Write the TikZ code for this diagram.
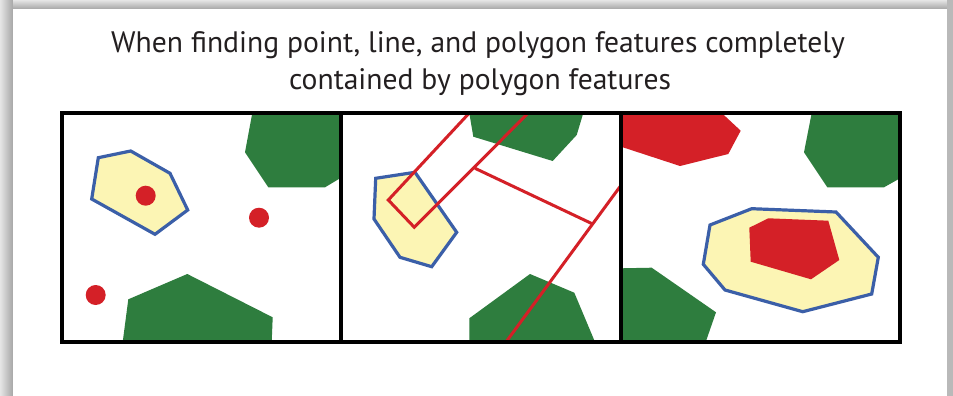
\documentclass[tikz,border=0pt]{standalone}
\usepackage{fontspec}
\setmainfont{PT Sans}
\begin{document}
\definecolor{mapgreen}{RGB}{46,125,62}
\definecolor{mapred}{RGB}{212,32,39}
\definecolor{mapyellow}{RGB}{252,245,180}
\definecolor{mapblue}{RGB}{59,95,168}
\definecolor{titlegray}{RGB}{35,31,32}
\begin{tikzpicture}[x=1pt,y=-1pt,
  greenpoly/.style={fill=mapgreen,draw=none},
  redpoly/.style={fill=mapred,draw=none},
  selpoly/.style={fill=mapyellow,draw=mapblue,line width=3.2pt,line join=miter},
  redline/.style={draw=mapred,line width=3pt,line join=miter},
  reddot/.style={fill=mapred,draw=none},
  frame/.style={draw=black,line width=3.2pt},
  titletext/.style={font=\fontsize{29.6}{36}\selectfont,text=titlegray,align=center,inner sep=0pt}]
\useasboundingbox (0,0) rectangle (953,396);
% card with drop shadow
\fill[gray!45] (0,0) rectangle (953,396);
\shade[left color=gray!20,right color=gray!70] (0,0) rectangle (13,396);
\shade[top color=gray!20,bottom color=gray!70] (13,0) rectangle (947,9);
\fill[gray!55] (947,0) rectangle (953,396);
\fill[white] (13,9) rectangle (947,396);

% heading
\node[titletext,anchor=base] (title1) at (478,53) {When finding point, line, and polygon features completely};
\node[titletext,anchor=base] (title2) at (480,89) {contained by polygon features};

% ---- panel 1: points ----
\fill[greenpoly] (252.3,113) -- (245,152.3) -- (268.3,187.3) -- (325,187.3) -- (341,177.7) -- (341,113) -- cycle;
\fill[greenpoly] (128.3,299.3) -- (187.3,274) -- (272.7,317.3) -- (271.7,342) -- (122.7,342) -- cycle;
\draw[selpoly] (98.3,157.7) -- (130.7,151) -- (170,173.3) -- (187.7,210) -- (155,234.3) -- (91.7,199) -- cycle;
\fill[reddot] (145.7,195.7) circle (10);
\fill[reddot] (259,217.7) circle (10);
\fill[reddot] (95.7,295) circle (10);

% ---- panel 2: lines ----
\fill[greenpoly] (469.3,113) -- (473.3,136.7) -- (552.7,161) -- (576.7,135) -- (583.3,113) -- cycle;
\fill[greenpoly] (469.3,318.3) -- (530,274) -- (574.3,292.7) -- (595,342) -- (469.3,342) -- cycle;
\draw[selpoly] (375.7,178.3) -- (415,172.3) -- (456.7,232.3) -- (431.7,266.7) -- (400,257.3) -- (374,219) -- cycle;
\coordinate (la) at (469.3,113);
\coordinate (lb) at (388.3,200);
\coordinate (lc) at (414.3,227.3);
\coordinate (ld) at (528.3,113);
\coordinate (le) at (475,168.3);
\coordinate (lf) at (592.7,224);
\coordinate (lg) at (621,185.3);
\coordinate (lh) at (506,342);
\draw[redline] (la) -- (lb) -- (lc) -- (ld);
\draw[redline] (le) -- (lf);
\draw[redline] (lg) -- (lh);

% ---- panel 3: polygons ----
\fill[redpoly] (621,113) -- (721.7,113) -- (740.7,130.7) -- (728.3,154) -- (680,166) -- (621,146.7) -- cycle;
\fill[greenpoly] (811.7,113) -- (804,152.3) -- (827.3,187.3) -- (884,187.3) -- (900,178.3) -- (900,113) -- cycle;
\fill[greenpoly] (621,268.3) -- (651.7,267.7) -- (716,312.3) -- (705.7,342) -- (621,342) -- cycle;
\draw[selpoly] (710,225) -- (751.7,208.7) -- (836,212) -- (878.3,257.3) -- (871.7,294) -- (802.7,311.7) -- (725,290) -- (703.3,264.3) -- cycle;
\fill[redpoly] (749.3,227.7) -- (768.3,218.3) -- (828.3,220.7) -- (839.3,260) -- (811,279.3) -- (750.7,261.7) -- cycle;

% panel frames
\draw[frame] (62,113) rectangle (900,342);
\draw[frame] (341,113) -- (341,342);
\draw[frame] (621,113) -- (621,342);
\end{tikzpicture}
\end{document}
